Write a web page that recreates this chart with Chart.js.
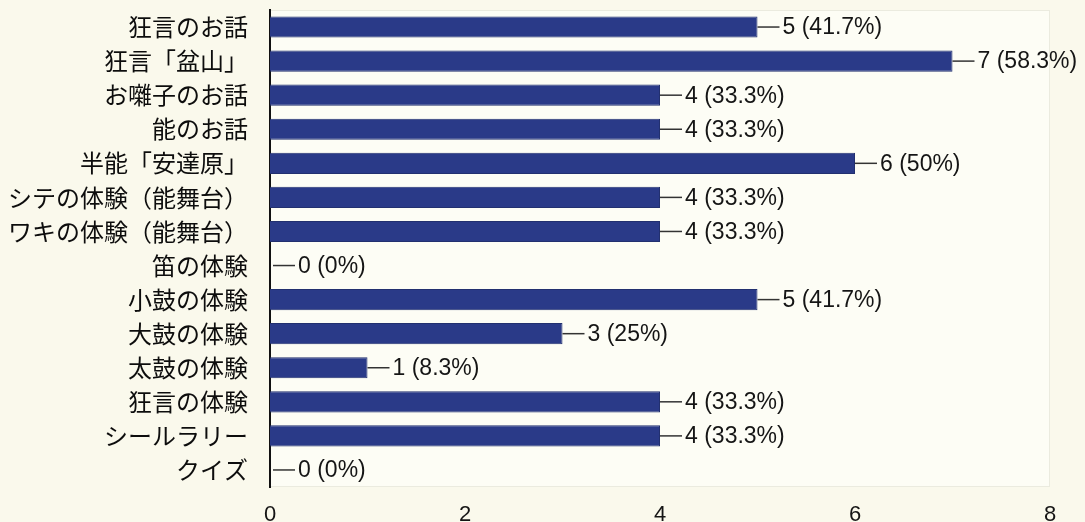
<!DOCTYPE html>
<html>
<head>
<meta charset="utf-8">
<script src="https://cdn.jsdelivr.net/npm/chart.js@4/dist/chart.umd.min.js"></script>
<style>
html,body{margin:0;padding:0;background:#faf9ec;}
#wrap{width:1085px;height:522px;position:relative;}
</style>
</head>
<body>
<div id="wrap"><canvas id="c" width="1085" height="522"></canvas></div>
<script>
const categories = ["狂言のお話","狂言「盆山」","お囃子のお話","能のお話","半能「安達原」","シテの体験（能舞台）","ワキの体験（能舞台）","笛の体験","小鼓の体験","大鼓の体験","太鼓の体験","狂言の体験","シールラリー","クイズ"];
const counts = [5,7,4,4,6,4,4,0,5,3,1,4,4,0];
const percents = ["41.7%","58.3%","33.3%","33.3%","50%","33.3%","33.3%","0%","41.7%","25%","8.3%","33.3%","33.3%","0%"];
const xTicks = [0,2,4,6,8];

const plotBg = {
  id:'plotBg',
  beforeDraw(chart){
    const {ctx, chartArea:a} = chart;
    ctx.save();
    ctx.fillStyle = '#fdfdf5';
    ctx.fillRect(a.left, a.top, a.right-a.left, a.bottom-a.top);
    ctx.strokeStyle = '#ebebdf';
    ctx.lineWidth = 1;
    ctx.strokeRect(a.left+0.5, a.top+0.5, a.right-a.left-1, a.bottom-a.top-1);
    ctx.restore();
  }
};

const valueLabels = {
  id:'valueLabels',
  afterDatasetsDraw(chart){
    const {ctx} = chart;
    const meta = chart.getDatasetMeta(0);
    ctx.save();
    ctx.font = '23px "Liberation Sans", Arial, sans-serif';
    ctx.fillStyle = '#151515';
    ctx.strokeStyle = '#333';
    ctx.lineWidth = 1.5;
    ctx.textBaseline = 'middle';
    ctx.textAlign = 'left';
    meta.data.forEach((bar, i) => {
      const x = Math.max(bar.x, chart.chartArea.left + 3);
      const y = bar.y;
      ctx.beginPath();
      ctx.moveTo(x, y);
      ctx.lineTo(x + 22, y);
      ctx.stroke();
      ctx.fillText(counts[i] + ' (' + percents[i] + ')', x + 25, y + 1);
    });
    ctx.restore();
  }
};

new Chart(document.getElementById('c'), {
  type:'bar',
  data:{
    labels: categories,
    datasets:[{
      data: counts,
      backgroundColor:'#2a3a88',
      borderColor:'#22306f',
      borderWidth:1,
      barPercentage:0.62,
      categoryPercentage:1.0
    }]
  },
  options:{
    indexAxis:'y',
    responsive:false,
    animation:false,
    layout:{padding:{left:0,right:35,top:10,bottom:0}},
    plugins:{legend:{display:false},tooltip:{enabled:false}},
    scales:{
      x:{
        min:0,max:8,
        afterBuildTicks(s){ s.ticks = xTicks.map(v=>({value:v})); },
        afterFit(s){ s.height = 35; s.paddingLeft = 0; s.paddingRight = 0; },
        grid:{display:false, drawTicks:false},
        border:{display:false},
        ticks:{font:{size:22,family:'"Liberation Sans", Arial, sans-serif'},color:'#151515',padding:15}
      },
      y:{
        afterFit(s){ s.width = 270; s.paddingTop = 0; s.paddingBottom = 0; },
        grid:{display:false, drawTicks:false},
        border:{display:true,color:'#111',width:2},
        ticks:{font:{size:24,family:'"Noto Sans CJK JP", sans-serif'},color:'#0d0d0d',padding:22}
      }
    }
  },
  plugins:[plotBg, valueLabels]
});
</script>
</body>
</html>
